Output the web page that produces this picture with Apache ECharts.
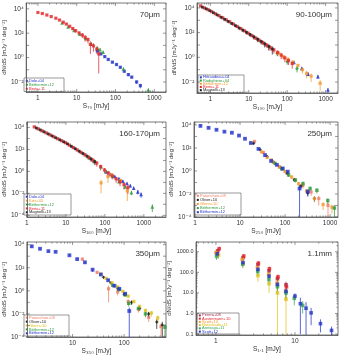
<!DOCTYPE html>
<html><head><meta charset="utf-8">
<script src="https://cdn.jsdelivr.net/npm/echarts@6/dist/echarts.min.js"></script>
<style>html,body{margin:0;padding:0;background:#fff}#c{width:342px;height:356px}</style>
</head><body><div id="c"></div>
<script>
// Each point: [S (mJy), dN/dS (mJy^-1 deg^-2), 1-sigma error on dN/dS]

// ---- 70 um ----
const dole70 = [[34,3.5,0.6],[42,2.0,0.3],[53,1.2,0.2],[65,0.7,0.1],[83,0.42,0.06],[106,0.27,0.04],[133,0.16,0.03],[168,0.076,0.015],[214,0.04,0.01],[262,0.025,0.006],[350,0.01,0.003],[437,0.005,0.002]];
const bethermin70 = [[4.2,700,60],[6,330,40],[8.5,170,25],[12,85,15],[17,38,8],[24,13,4],[34,6,2],[40,4.5,1.5],[48,2.8,0.8],[160,0.12,0.03],[700,0.0022,0.0007]];
const berta70 = [[1.0,5000,300],[1.3,4100,250],[1.7,3100,200],[2.2,2300,150],[2.9,1700,120],[3.6,1200,90],[4.5,800,70],[5.4,560,60],[6.6,370,50],[7.9,240,60],[9.4,160,50],[11.5,105,30],[14,70,30],[16.5,45,25],[19.5,30,15],[22.5,12,10],[27,9,6],[33,5,3],[37,2,1.95]];

// ---- 90-100 um ----
const heraudeau100 = [[150,0.4,0.1],[240,0.13,0.04],[350,0.045,0.015],[630,0.028,0.01],[1150,0.0023,0.001]];
const rodighiero100 = [[55,2.0,0.8],[100,0.45,0.2],[180,0.12,0.06]];
const bethermin100 = [[60,2.2,0.8],[80,1.1,0.4],[105,0.7,0.25],[140,0.4,0.15],[190,0.22,0.08],[250,0.1,0.05],[320,0.05,0.03],[420,0.03,0.02],[720,0.008,0.006]];
const berta100 = [[0.56,14500,900],[0.7,10000,700],[0.87,7200,500],[1.08,5000,350],[1.35,3400,250],[1.68,2350,180],[2.1,1580,120],[2.6,1090,90],[3.2,740,70],[4.0,490,50],[5.0,316,40],[6.2,210,30],[7.7,138,25],[9.6,91,18],[12,58,14],[15,37,10],[18.5,24.5,8],[23,16,6],[29,10,4],[36,6.3,3],[45,4.0,2],[56,2.5,1.2],[70,1.5,0.8],[87,0.9,0.5],[108,0.54,0.3],[135,0.32,0.2]];
const magnelli100 = [[0.62,11500,900],[0.78,8500,700],[0.97,6000,500],[1.2,4100,350],[1.5,2750,250],[1.9,1760,180],[2.35,1200,130],[2.9,815,100],[3.6,550,80],[4.5,365,70],[5.6,240,60],[7,160,45],[8.7,107,35],[10.8,71,25],[13.5,46,18],[17,29,12],[21,19,8],[26,12.3,6],[33,7.6,4],[41,4.7,3]];

// ---- 160-170 um ----
const dole160 = [[110,0.9,0.2],[140,0.55,0.12],[180,0.35,0.08],[230,0.22,0.05],[290,0.13,0.03],[370,0.08,0.02],[450,0.05,0.015],[550,0.03,0.01],[700,0.014,0.006],[850,0.008,0.004]];
const kiss160 = [[80,0.09,0.08],[120,0.34,0.25],[150,0.5,0.2],[250,0.15,0.08],[376,0.017,0.015]];
const bethermin160 = [[40,18,3],[55,8,1.5],[80,2.6,0.5],[110,1.0,0.2],[160,0.35,0.08],[230,0.12,0.03],[330,0.04,0.012],[480,0.012,0.005],[1650,0.0006,0.0004]];
const berta160 = [[1.55,11500,800],[1.95,7600,600],[2.45,5000,400],[3.1,3300,300],[3.9,2200,200],[4.9,1450,150],[6.2,950,110],[7.8,630,90],[9.8,415,70],[12.3,250,50],[15.5,150,35],[19.5,91,25],[24.5,55,18],[31,33,12],[39,19,8],[49,10.7,5],[62,5.7,3],[78,2.75,1.5],[98,1.35,0.7],[123,0.72,0.4],[155,0.39,0.2],[195,0.21,0.12],[245,0.115,0.07],[310,0.062,0.04],[390,0.034,0.025]];
const magnelli160 = [[1.75,9100,700],[2.2,6100,500],[2.75,4100,350],[3.5,2650,250],[4.4,1750,180],[5.5,1170,130],[7,760,100],[8.8,500,80],[11,324,60],[13.8,196,45],[17.4,118,30],[22,70,20],[27.5,43,14],[35,24.5,9],[44,13.8,6],[55,7.9,4]];

// ---- 250 um ----
const patanchon250 = [[21,370,60],[33,40,10],[50,9,2],[75,2.4,0.6],[110,0.65,0.2],[165,0.18,0.07],[250,0.06,0.03],[380,0.015,0.008],[560,0.004,0.003],[900,0.001,0.00095]];
const oliver250 = [[20,250,40],[28,70,12],[40,18,3],[56,6,1],[80,1.9,0.4],[113,0.6,0.15],[160,0.17,0.05],[226,0.05,0.02],[320,0.013,0.006],[450,0.004,0.002]];
const glenn250 = [[30,45,10],[40,15,3],[55,5.5,1.2],[75,2.2,0.5],[100,0.9,0.2],[140,0.3,0.1],[200,0.08,0.03],[300,0.018,0.008],[450,0.004,0.002],[700,0.0012,0.0008],[1100,0.0007,0.0005]];
const betherminPD250 = [[60,4.5,1],[85,1.5,0.4],[120,0.45,0.15],[170,0.16,0.06],[250,0.08,0.04],[360,0.03,0.015],[510,0.021,0.01],[890,0.0027,0.0015],[1250,0.0006,0.0005]];
const betherminST250 = [[1.32,8300,1500],[2.0,5600,600],[3.0,3800,400],[4.5,2600,300],[6.6,2100,250],[9.5,1200,150],[12.9,630,80],[17.4,270,60],[25.7,83,15],[36,24,5],[49,7.4,1.5],[66,3.4,0.7],[89,1.66,0.35],[115,0.87,0.2],[210,0.03,0.03],[320,0.016,0.01]];

// ---- 350 um ----
const patanchon350 = [[15.5,560,150],[30,40,12],[50,1.5,1.4],[75,0.8,0.4],[120,0.12,0.06],[190,0.025,0.012],[300,0.005,0.003],[520,0.0008,0.0007]];
const oliver350 = [[40,15,3],[55,5,1],[75,1.6,0.4],[100,0.5,0.15],[140,0.1,0.04],[200,0.03,0.012],[300,0.01,0.005],[430,0.002,0.0015],[550,0.0011,0.001]];
const glenn350 = [[35,28,6],[45,12,2.5],[58,5,1],[75,2.2,0.5],[95,0.9,0.2],[120,0.35,0.1],[155,0.12,0.04],[200,0.045,0.015],[260,0.02,0.008],[340,0.012,0.006],[450,0.0045,0.003]];
const betherminPD350 = [[60,3,0.8],[80,1.3,0.4],[105,0.45,0.15],[123,0.083,0.04],[190,0.03,0.01],[260,0.01,0.005],[620,0.0007,0.0006]];
const betherminST350 = [[1.62,7200,1800],[2.34,4400,700],[3.4,2750,400],[4.7,2400,350],[8.7,1200,150],[12.3,560,100],[17.4,295,60],[24.5,68,25],[35.5,26,6],[49,8.3,2],[65,2.75,0.8],[81,1.5,0.4],[105,0.56,0.2],[126,0.018,0.018]];

// ---- 1.1 mm ----
const perera11 = [[1.05,1100,350],[2.2,520,120],[3.4,240,60],[4.7,120,35],[6.0,50,18],[7.7,25,10]];
const austermann11 = [[1.1,1400,400],[2.25,620,150],[3.45,280,70],[4.75,150,40],[6.1,60,20],[7.8,20,10]];
const scott10 = [[1.0,900,300],[2.15,420,120],[3.35,170,60],[4.65,80,40],[5.95,30,20],[7.6,12,8]];
const hatsukade11 = [[1.08,700,250],[2.2,260,100],[3.4,70,35],[4.7,28,18],[6.0,10,9.9],[7.7,5,4.95]];
const aretxaga11 = [[1.02,600,200],[2.18,250,80],[3.38,110,40],[4.68,45,18],[6.0,20,8],[7.7,10,5],[9.8,5.5,3],[12.5,2.5,1.5]];
const scott12 = [[1.04,800,200],[2.2,300,70],[3.4,140,35],[4.7,66,18],[6.0,26,8],[7.7,12,4],[10,7,2.5],[11.7,3,2.9],[13.8,1.8,1.79],[16,1.07,0.8],[21,0.32,0.2],[29,0.15,0.08]];

const BLUE = '#2333c8', RED = '#e2262b', GREEN = '#2f9a3c', ORANGE = '#f29a30', BLACK = '#1b1b1b',
      YELLOW = '#e0c01c', SALMON = '#f07e66', MAROON = '#a8284a', TEAL = '#35a65a';

const panels = [
  { band: '70μm', xName: 'S₇₀ [mJy]', grid: { left: 23, top: 3, width: 143, height: 89 },
    x: [0.5, 2000], y: [1.5e-3, 3e4], yLog: true, nameGapX: 8, nameGapY: 14,
    legend: { x: 24, y: 78, w: 40, h: 13.5 },
    series: [
      { name: 'Dole+04', color: BLUE, symbol: 'rect', size: 3.2, data: dole70 },
      { name: 'Béthermin+12', color: GREEN, symbol: 'triangle', size: 3.8, data: bethermin70 },
      { name: 'Berta+11', color: RED, symbol: 'rect', size: 3.2, data: berta70 } ] },
  { band: '90-100μm', xName: 'S₁₀₀ [mJy]', grid: { left: 197, top: 3, width: 141, height: 90 },
    x: [0.45, 2100], y: [1.3e-3, 2.5e4], yLog: true, nameGapX: 8, nameGapY: 14,
    legend: { x: 198, y: 75, w: 46, h: 17.5 },
    series: [
      { name: 'Héraudeau+04', color: BLUE, symbol: 'triangle', size: 3.8, data: heraudeau100 },
      { name: 'Rodighiero+04', color: GREEN, symbol: 'diamond', size: 3.8, data: rodighiero100 },
      { name: 'Béthermin+12', color: ORANGE, symbol: 'rect', size: 3.2, data: bethermin100 },
      { name: 'Berta+11', color: RED, symbol: 'rect', size: 3.2, data: berta100 },
      { name: 'Magnelli+13', color: BLACK, symbol: 'rect', size: 2.8, data: magnelli100 } ] },
  { band: '160-170μm', xName: 'S₁₆₀ [mJy]', grid: { left: 23, top: 122, width: 143, height: 95 },
    x: [1, 3700], y: [7e-5, 3.2e4], yLog: true, nameGapX: 8, nameGapY: 14,
    legend: { x: 24, y: 194, w: 47, h: 21 },
    series: [
      { name: 'Dole+04', color: BLUE, symbol: 'triangle', size: 3.8, data: dole160 },
      { name: 'Kiss+05', color: ORANGE, symbol: 'rect', size: 3.2, data: kiss160 },
      { name: 'Béthermin+12', color: GREEN, symbol: 'triangle', size: 3.8, data: bethermin160 },
      { name: 'Berta+11', color: RED, symbol: 'rect', size: 3.2, data: berta160 },
      { name: 'Magnelli+13', color: BLACK, symbol: 'rect', size: 2.8, data: magnelli160 } ] },
  { band: '250μm', xName: 'S₂₅₀ [mJy]', grid: { left: 194, top: 122, width: 144, height: 95 },
    x: [0.95, 1500], y: [1e-4, 1.8e4], yLog: true, nameGapX: 8, nameGapY: 14,
    legend: { x: 195, y: 193, w: 46, h: 22 },
    series: [
      { name: 'Patanchon+09', color: SALMON, symbol: 'rect', size: 3.2, data: patanchon250 },
      { name: 'Oliver+10', color: BLACK, symbol: 'diamond', size: 3.6, data: oliver250 },
      { name: 'Glenn+10', color: ORANGE, symbol: 'rect', size: 3.2, data: glenn250 },
      { name: 'Béthermin+12', color: GREEN, symbol: 'rect', size: 3.4, data: betherminPD250 },
      { name: 'Béthermin+12 ', color: BLUE, symbol: 'rect', size: 3.8, data: betherminST250 } ] },
  { band: '350μm', xName: 'S₃₅₀ [mJy]', grid: { left: 23, top: 242, width: 143, height: 95 },
    x: [1.3, 650], y: [1e-4, 1.7e4], yLog: true, nameGapX: 8, nameGapY: 14,
    legend: { x: 24, y: 315, w: 45, h: 21 },
    series: [
      { name: 'Patanchon+09', color: SALMON, symbol: 'rect', size: 3.2, data: patanchon350 },
      { name: 'Oliver+10', color: BLACK, symbol: 'diamond', size: 3.6, data: oliver350 },
      { name: 'Glenn+10', color: YELLOW, symbol: 'rect', size: 3.2, data: glenn350 },
      { name: 'Béthermin+12', color: GREEN, symbol: 'rect', size: 3.4, data: betherminPD350 },
      { name: 'Béthermin+12 ', color: BLUE, symbol: 'rect', size: 3.8, data: betherminST350 } ] },
  { band: '1.1mm', xName: 'S₁.₁ [mJy]', grid: { left: 196, top: 242, width: 142, height: 93 },
    x: [0.56, 35], y: [0.09, 3000], yLog: false, nameGapX: 8, nameGapY: 17,
    legend: { x: 197, y: 313, w: 42, h: 21 },
    series: [
      { name: 'Perera+08', color: MAROON, symbol: 'rect', size: 3.6, data: perera11 },
      { name: 'Austermann+10', color: RED, symbol: 'rect', size: 3.6, data: austermann11 },
      { name: 'Scott+10', color: ORANGE, symbol: 'rect', size: 3.6, data: scott10 },
      { name: 'Hatsukade+11', color: YELLOW, symbol: 'rect', size: 3.6, data: hatsukade11 },
      { name: 'Aretxaga+11', color: TEAL, symbol: 'rect', size: 3.6, data: aretxaga11 },
      { name: 'Scott+12', color: BLUE, symbol: 'rect', size: 3.6, data: scott12 } ] }
];

const SUP = { '-': '⁻', '0': '⁰', '1': '¹', '2': '²', '3': '³', '4': '⁴', '5': '⁵', '6': '⁶', '7': '⁷', '8': '⁸', '9': '⁹' };
const FONT = 'Liberation Sans, Arial, DejaVu Sans, sans-serif';
const AXC = '#555';

function decade(v) {
  const e = Math.log10(v), r = Math.round(e);
  return Math.abs(e - r) < 1e-6 ? r : null;
}
function xLabel(v) {
  const r = decade(v);
  if (r === null) return '';
  return r >= 0 ? String(Math.round(Math.pow(10, r))) : Math.pow(10, r).toFixed(-r);
}
function yPowLabel(v) {
  const r = decade(v);
  if (r === null || r % 2 !== 0) return '';
  return '10' + String(r).split('').map(c => SUP[c]).join('');
}
function yFixedLabel(v) {
  const r = decade(v);
  if (r === null) return '';
  return Math.pow(10, r).toFixed(1);
}

function errRender(yMin, color) {
  return function (params, api) {
    const x = api.value(0), y = api.value(1), d = api.value(2);
    const lo = Math.max(y - d, yMin), hi = y + d;
    const a = api.coord([x, lo]), b = api.coord([x, hi]);
    return { type: 'line', shape: { x1: a[0], y1: a[1], x2: b[0], y2: b[1] },
             style: { stroke: color, lineWidth: 0.75 } };
  };
}

// major/minor ticks on all four sides of a log-log frame
function tickRender(p) {
  return function (params, api) {
    const ch = [];
    const [x0, x1] = p.x, [y0, y1] = p.y;
    const seg = (a, b) => ch.push({ type: 'line', shape: { x1: a[0], y1: a[1], x2: b[0], y2: b[1] },
                                    style: { stroke: AXC, lineWidth: 0.6 } });
    for (let k = Math.floor(Math.log10(x0)); k <= Math.ceil(Math.log10(x1)); k++) {
      for (let m = 1; m <= 9; m++) {
        const v = m * Math.pow(10, k);
        if (v < x0 || v > x1) continue;
        const len = m === 1 ? 3 : 1.6;
        const b = api.coord([v, y0]), t = api.coord([v, y1]);
        seg(b, [b[0], b[1] - len]); seg(t, [t[0], t[1] + len]);
      }
    }
    for (let k = Math.floor(Math.log10(y0)); k <= Math.ceil(Math.log10(y1)); k++) {
      const mMax = p.yLog ? 1 : 9;
      for (let m = 1; m <= mMax; m++) {
        const v = m * Math.pow(10, k);
        if (v < y0 || v > y1) continue;
        const len = m === 1 ? 3 : 1.6;
        const l = api.coord([x0, v]), r = api.coord([x1, v]);
        seg(l, [l[0] + len, l[1]]); seg(r, [r[0] - len, r[1]]);
      }
    }
    return { type: 'group', children: ch };
  };
}

const grid = [], xAxis = [], yAxis = [], series = [], graphic = [];
panels.forEach((p, i) => {
  grid.push(Object.assign({ show: true, borderColor: AXC, borderWidth: 0.8, backgroundColor: '#fff' }, p.grid));
  xAxis.push({
    gridIndex: i, type: 'log', logBase: 10, min: p.x[0], max: p.x[1],
    name: p.xName, nameLocation: 'middle', nameGap: p.nameGapX,
    nameTextStyle: { fontSize: 6.5, color: '#333', fontFamily: FONT },
    axisLine: { show: true, lineStyle: { color: AXC, width: 0.8 } },
    axisTick: { show: false }, splitLine: { show: false }, minorTick: { show: false },
    axisLabel: { interval: 0, margin: 2.5, fontSize: 6.5, color: '#333', fontFamily: FONT, formatter: xLabel,
                 hideOverlap: false }
  });
  yAxis.push({
    gridIndex: i, type: 'log', logBase: 10, min: p.y[0], max: p.y[1],
    name: 'dN/dS [mJy⁻¹ deg⁻²]', nameLocation: 'middle', nameGap: p.nameGapY, nameRotate: 90,
    nameTextStyle: { fontSize: 6, color: '#333', fontFamily: FONT },
    axisLine: { show: true, lineStyle: { color: AXC, width: 0.8 } },
    axisTick: { show: false }, splitLine: { show: false }, minorTick: { show: false },
    axisLabel: { interval: 0, margin: 2.5, fontSize: p.yLog ? 6.5 : 5.5, color: '#333', fontFamily: FONT,
                 formatter: p.yLog ? yPowLabel : yFixedLabel, hideOverlap: false }
  });
  series.push({
    type: 'custom', xAxisIndex: i, yAxisIndex: i, data: [[p.x[0], p.y[0]]], clip: false,
    renderItem: tickRender(p), silent: true, z: 5
  });
  p.series.forEach(s => {
    series.push({
      type: 'custom', xAxisIndex: i, yAxisIndex: i, data: s.data, clip: true,
      renderItem: errRender(p.y[0], s.color), silent: true, z: 2,
      encode: { x: 0, y: 1 }
    });
    series.push({
      type: 'scatter', name: s.name, xAxisIndex: i, yAxisIndex: i,
      data: s.data.map(d => [d[0], d[1]]), symbol: s.symbol, symbolSize: s.size,
      itemStyle: { color: s.color }, silent: true, z: 3, clip: true
    });
  });
  // band label, upper right
  graphic.push({
    type: 'text', x: p.grid.left + p.grid.width - 6, y: p.grid.top + 12,
    style: { text: p.band, fontSize: 8, fill: '#333', fontFamily: FONT, textAlign: 'right', textVerticalAlign: 'middle' },
    z: 10
  });
  // legend box
  const L = p.legend, n = p.series.length, lh = (L.h - 1.5) / n;
  const ch = [{ type: 'rect', shape: { x: 0, y: 0, width: L.w, height: L.h },
                style: { fill: '#fff', stroke: AXC, lineWidth: 0.6 } }];
  p.series.forEach((s, j) => {
    const cy = 0.75 + lh * (j + 0.5);
    ch.push({ type: 'rect', shape: { x: 1.8, y: cy - 1, width: 2, height: 2 }, style: { fill: s.color } });
    ch.push({ type: 'text', x: 5, y: cy,
              style: { text: s.name.trim(), fontSize: 4, fill: s.color, fontFamily: FONT, textVerticalAlign: 'middle' } });
  });
  graphic.push({ type: 'group', x: L.x, y: L.y, children: ch, z: 10 });
});

const chart = echarts.init(document.getElementById('c'), null, { renderer: 'canvas' });
chart.setOption({ animation: false, backgroundColor: '#fff', grid, xAxis, yAxis, series, graphic });
</script>
</body></html>
